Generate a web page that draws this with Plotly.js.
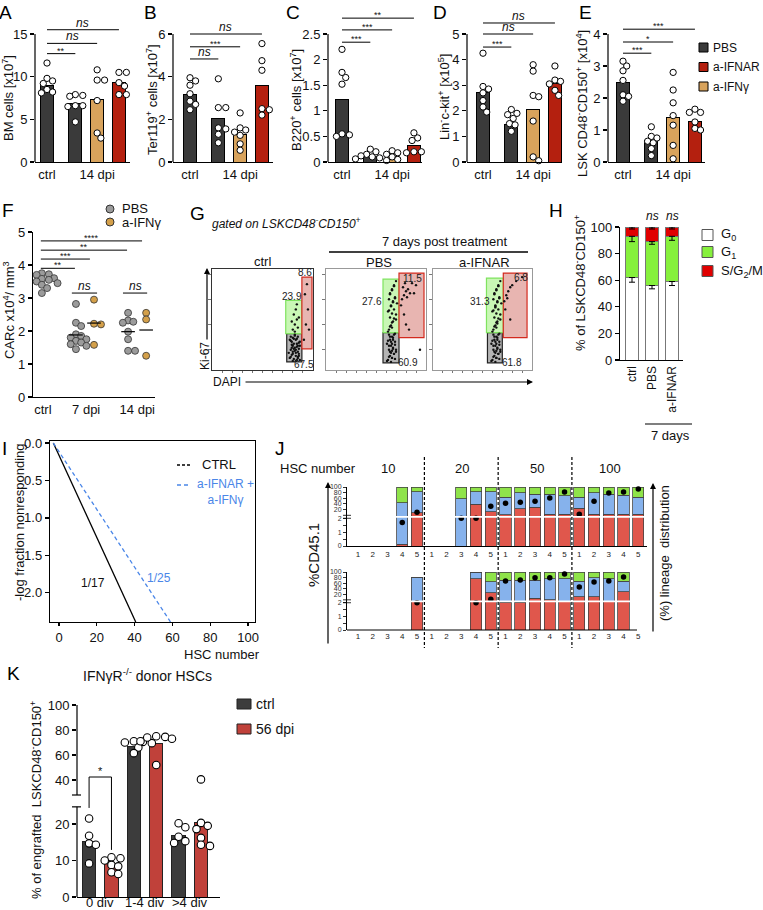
<!DOCTYPE html>
<html><head><meta charset="utf-8">
<script src="https://cdn.plot.ly/plotly-3.0.1.min.js"></script>
<style>html,body{margin:0;padding:0;background:#fff;}#chart{width:763px;height:910px;}</style>
</head><body><div id="chart"></div>
<script>
// ================= DATA =================
// Panels A–E : bars = ctrl, 14 dpi PBS, 14 dpi a-IFNγ, 14 dpi a-IFNAR
const AE_tickText = ['ctrl', '14 dpi'];
const AE_legend = ['PBS', 'a-IFNAR', 'a-IFNγ'];
const A_bar = [9.0, 6.8, 7.3, 9.3];
const A_pts = [[11.6,9.8,9.5,9.2,8.5,8.2,8.1],[7.9,7.8,7.7,6.6,6.6,6.5,4.7],[10.8,9.6,9.6,7.2,3.4,2.8],[10.5,10.5,9.3,8.9,7.9,7.9]];
const A_sig = [[1,12.7,'**'],[2,13.9,'ns'],[3,15.5,'ns']];
const B_bar = [3.15, 2.05, 1.3, 3.6];
const B_pts = [[3.95,3.8,3.6,3.2,2.85,2.7,2.45],[3.9,2.55,2.55,1.6,1.55,1.3,0.9],[2.3,1.6,1.5,1.4,1.25,0.85,0.55],[5.55,4.75,4.3,2.5,2.45,2.2]];
const B_sig = [[1,4.83,'ns'],[2,5.4,'***'],[3,6.0,'ns']];
const C_bar = [1.22, 0.1, 0.11, 0.33];
const C_pts = [[2.2,1.75,1.65,1.52,0.55,0.53,0.5],[0.25,0.2,0.15,0.12,0.1,0.08,0.06],[0.22,0.18,0.15,0.1,0.05,0.03],[0.57,0.47,0.42,0.2,0.2,0.18]];
const C_sig = [[1,2.34,'***'],[2,2.58,'***'],[3,2.81,'**']];
const D_bar = [2.7, 1.45, 2.05, 3.05];
const D_pts = [[4.25,2.95,2.85,2.7,2.4,2.15,1.95],[2.05,1.9,1.85,1.7,1.5,1.45,1.2],[3.8,3.55,2.6,2.55,1.6,0.2,0.05],[3.75,3.2,3.15,3.05,2.8,2.6]];
const D_sig = [[1,4.49,'***'],[2,5.0,'ns'],[3,5.43,'ns']];
const E_bar = [2.5, 0.68, 1.4, 1.28];
const E_pts = [[3.15,3.0,2.85,2.55,2.1,2.05,1.9],[1.1,0.8,0.75,0.65,0.6,0.42,0.2],[2.8,2.25,1.85,1.45,1.15,0.52,0.1],[1.65,1.55,1.55,1.25,1.05,1.0]];
const E_sig = [[1,3.4,'***'],[2,3.75,'*'],[3,4.15,'***']];

// Panel F : CARc x10^4 / mm^3
const F_tickText = ['ctrl', '7 dpi', '14 dpi'];
const F_ctrlPBS = [3.75,3.72,3.7,3.65,3.6,3.58,3.55,3.5,3.48,3.45,3.4,3.3,3.15];
const F_7PBS = [2.82,2.25,2.15,1.9,1.85,1.8,1.75,1.7,1.65,1.6,1.55,1.45];
const F_7IFNg = [2.95,2.22,2.2,1.58];
const F_14PBS = [2.55,2.32,2.28,2.25,1.98,1.75,1.4,1.4];
const F_14IFNg = [2.55,2.35,1.25];
const F_mean = [3.55, 1.88, 2.24, 1.98, 2.03];
const F_sig = [[0.97,3.9,'**'],[1.41,4.18,'***'],[2.5,4.45,'**'],[2.94,4.73,'****']];
const F_ns = [[0.88,1.62,3.15],[2.38,3.09,3.15]];

// Panel G : flow plots (DAPI, Ki-67) in 0–100 display units
const G_titles = ['ctrl', 'PBS', 'a-IFNAR'];
const G_ctrlDAPI = [77,79,81,83,85,78,80,82,84,86,79,81,83,85,87,76,80,84,86,82,78,87,80,83,85, 78,80,82,84,86,77,79,81,83,85,87,78,80,82,84,86,79,81,83,85, 80,82,84,81,83,85,86,79,84,82, 91,93,95,92,94,96];
const G_ctrlKi67 = [12,15,11,14,18,20,24,22,26,21,28,31,30,33,28,17,9,10,14,34,33,24,18,20,12, 13,16,19,23,27,30,25,21,17,13,10,29,32,35,31,16,22,26,9,24, 40,45,50,55,60,42,52,48,65,38, 30,45,60,75,85,40];
const G_pbsDAPI = [62,64,66,68,63,65,67,69,64,66,68,61,70,65,67,63,69,66, 61,63,65,67,69,62,64,66,68,70,63,65,67,69,64,66, 63,65,67,64,66,68,65,67,69,64,66,68,70,62,70,66,71,63, 62,64,66,68,70,63,65,67,69,64,66,68, 76,78,80,77,79,81,82,84,75,78,80,83,86,90,88,94];
const G_pbsKi67 = [10,14,12,16,20,24,22,28,30,33,35,26,18,8,30,35,11,19, 9,13,17,21,25,29,33,12,16,20,24,28,32,36,18,26, 40,44,48,52,56,60,64,68,72,76,80,84,88,58,50,42,66,70, 38,43,47,51,55,59,63,67,71,75,79,83, 70,74,78,82,86,72,80,76,64,55,45,40,86,84,76,20];
const G_ifnDAPI = [60,62,64,66,61,63,65,67,62,64,66,59,68,63,65,61,67,64, 59,61,63,65,67,60,62,64,66,68,61,63,65,67,62,64, 61,63,65,62,64,66,63,65,67,62,64,66,68,60,68,64,69,61,63,65, 60,62,64,66,68,61,63,65,67,62,64,66, 72,74,76,78,75,80,84,90,73,78];
const G_ifnKi67 = [10,14,12,16,20,24,22,28,30,33,35,26,18,8,30,35,11,19, 9,13,17,21,25,29,33,12,16,20,24,28,32,36,18,26, 40,44,48,52,56,60,64,68,72,76,80,84,88,58,50,42,66,70,62,46, 38,43,47,51,55,59,63,67,71,75,79,83, 68,74,78,82,71,84,88,92,60,50];
const G_ctrlGates = [[74,89,8,36],[73,89,36,69],[89,99,21,92]];
const G_pbsGates = [[57,73,7,37],[57,73,37,90],[73,98,32,96]];
const G_ifnGates = [[55,70,7,37],[54,71,37,91],[71,95,32,96]];
const G_ctrlPct = ['67.5','23.9','8.6'];
const G_pbsPct = ['60.9','27.6','11.5'];
const G_ifnPct = ['61.8','31.3','6.8'];

// Panel H : cell cycle (%)
const H_cat = ['ctrl', 'PBS', 'a-IFNAR'];
const H_G0 = [62, 56, 59];
const H_G1 = [31, 33, 34];
const H_S = [7, 11, 7];
const H_errG0 = [3.5, 2.5, 3];
const H_errG1 = [4, 2, 3];
const H_errS = [1.5, 1.5, 1.5];

// Panel I : limiting dilution
const I_ctrlX = [-3, 40.6], I_ctrlY = [0, 2.39];
const I_ifnX = [-3, 59], I_ifnY = [0, 2.39];

// Panel J : lineage distribution (%) and %CD45.1 per mouse
const J_groups = ['10', '20', '50', '100'];
const J_lab = ['1','2','3','4','5','1','2','3','4','5','1','2','3','4','5','1','2','3','4','5'];
const J_topRed   = [null,null,null,3,56,null,null,0,71,58,53,63,66,54,54,64,54,54,54,54];
const J_topBlue  = [null,null,null,70,36,null,null,80,21,34,30,27,22,34,31,19,36,34,32,29];
const J_topGreen = [null,null,null,27,8,null,null,20,8,8,17,10,12,12,15,17,10,12,14,17];
const J_topCD    = [null,null,null,1.7,11,null,null,2,2,32,43,46,50,61,82,4,50,79,82,93];
const J_botRed   = [null,null,null,null,50,null,null,null,88,64,48,48,55,52,50,57,57,50,66,null];
const J_botBlue  = [null,null,null,null,40,null,null,null,12,19,38,38,31,36,38,27,33,38,18,null];
const J_botGreen = [null,null,null,null,0,null,null,null,0,17,14,14,14,12,12,16,10,12,16,null];
const J_botCD    = [null,null,null,null,2,null,null,null,2,2.5,68,71,79,79,93,46,64,68,82,null];
const J_yTickVals = [0,0.5,1,1.5,2,20,40,60,80,100];
const J_yTickText = ['0',' ','1',' ','2','20','40','60','80','100'];

// Panel K : IFNγR-/- donor HSCs
const K_cat = ['0 div', '1-4 div', '>4 div'];
const K_bar = [15.1, 9.2, 66.5, 69.5, 16.8, 20.5];   // ctrl, 56 dpi per category
const K_pts = [[21.5,16.8,14.7,14.3,9.2],[10.9,10.6,10.0,8.8,8.4,6.8,6.3],[71,70.5,70,69.5,66,61.5],[75,74.5,74,73,71,52],[20.2,19.1,16.5,15.3,14.8],[40.5,20.3,19.5,18.6,16.2,14.3,14.0]];
const K_yTicks = [0,10,20,40,60,80,100];
const K_sig = [24.4, 42.4, 12.9];

// ================= BUILD =================
const W = 763, H = 910;
const FONT = '"Liberation Sans", Arial, Helvetica, sans-serif';
const traces = [], shapes = [], annotations = [];
const layout = {width:W, height:H, margin:{l:0,r:0,t:0,b:0}, paper_bgcolor:'#fff', plot_bgcolor:'rgba(0,0,0,0)',
  showlegend:false, barmode:'stack', hovermode:false, font:{family:FONT, size:13, color:'#111'}};
const xd = (a,b)=>[a/W, b/W];
const yd = (t,b)=>[1-b/H, 1-t/H];
function txt(x,y,text,o){annotations.push(Object.assign({xref:'paper',yref:'paper',x:x/W,y:1-y/H,text:text,showarrow:false,xanchor:'center',yanchor:'middle',font:{size:13,color:'#111',family:FONT}},o||{}));}
function pline(x0,y0,x1,y1,o){shapes.push(Object.assign({type:'line',xref:'paper',yref:'paper',x0:x0/W,y0:1-y0/H,x1:x1/W,y1:1-y1/H,line:{color:'#000',width:1.2}},o||{}));}
function prect(x0,y0,x1,y1,fill,lc){shapes.push({type:'rect',xref:'paper',yref:'paper',x0:x0/W,y0:1-y1/H,x1:x1/W,y1:1-y0/H,fillcolor:fill,line:{color:lc,width:1}});}
function pcirc(cx,cy,r,fill,lc){shapes.push({type:'circle',xref:'paper',yref:'paper',x0:(cx-r)/W,x1:(cx+r)/W,y0:1-(cy+r)/H,y1:1-(cy-r)/H,fillcolor:fill,line:{color:lc,width:1}});}
function parrow(hx,hy,tx,ty){annotations.push({xref:'paper',yref:'paper',x:hx/W,y:1-hy/H,ax:tx-hx,ay:ty-hy,text:'',showarrow:true,arrowhead:2,arrowsize:1,arrowwidth:1.2,arrowcolor:'#000'});}
function baseAxis(o){return Object.assign({showgrid:false,zeroline:false,fixedrange:true,linecolor:'#000',linewidth:1.2,tickcolor:'#000',tickwidth:1.2,tickfont:{size:13,color:'#111',family:FONT}},o);}
function swarm(vals,yPx,xPx,d){
  const placed=[], offs=[];
  vals.forEach(v=>{
    const yp=v*yPx; let best=0;
    for(let k=0;k<60;k++){
      const c=(k%2?1:-1)*Math.ceil(k/2)*d*0.3;
      if(placed.every(p=>Math.hypot(p[0]-c,p[1]-yp)>=d*0.92)){best=c;break;}
    }
    placed.push([best,yp]); offs.push(best/xPx);
  });
  return offs;
}
const sigText = s => s==='ns' ? '<i>ns</i>' : s;
const sigFont = s => s==='ns' ? {size:12,color:'#111'} : {size:9,color:'#111'};

// ---------- A–E ----------
const AE_x = [0, 1.3, 2.3, 3.3];
const AE_colors = ['#3a3a3a','#3a3a3a','#d8a35c','#b4200f'];
const AE_unit = 21.8;
const panelsAE = [
  {L:'A',lx:6,axis:35,ctrl:47,end:130,max:15,ticks:[0,5,10,15],title:'BM cells [x10<sup>7</sup>]',tx:8,ty:98,bar:A_bar,pts:A_pts,sig:A_sig},
  {L:'B',lx:150,axis:173,ctrl:190,end:273,max:6,ticks:[0,2,4,6],title:'Ter119<sup>+</sup> cells [x10<sup>7</sup>]',tx:152,ty:100,bar:B_bar,pts:B_pts,sig:B_sig},
  {L:'C',lx:293,axis:328,ctrl:342,end:422,max:2.5,ticks:[0,0.5,1,1.5,2,2.5],title:'B220<sup>+</sup> cells [x10<sup>7</sup>]',tx:296,ty:100,bar:C_bar,pts:C_pts,sig:C_sig},
  {L:'D',lx:440,axis:467,ctrl:483,end:562,max:5,ticks:[0,1,2,3,4,5],title:'Lin<sup>-</sup>c-kit<sup>+</sup> [x10<sup>5</sup>]',tx:444,ty:97,bar:D_bar,pts:D_pts,sig:D_sig},
  {L:'E',lx:585,axis:608,ctrl:623,end:705,max:4,ticks:[0,1,2,3,4],title:'LSK CD48<sup>-</sup>CD150<sup>+</sup> [x10<sup>4</sup>]',tx:582,ty:104,bar:E_bar,pts:E_pts,sig:E_sig}
];
panelsAE.forEach((p,i)=>{
  const s = i===0 ? '' : String(i+1);
  const xa='x'+s, ya='y'+s;
  const yPx = 128/p.max, rmax = p.max*1.2;
  layout['xaxis'+s] = baseAxis({domain:xd(p.axis,p.end), range:[(p.axis-p.ctrl)/AE_unit,(p.end-p.ctrl)/AE_unit], anchor:ya,
    showline:true, ticks:'', tickvals:[AE_x[0],AE_x[2]], ticktext:AE_tickText});
  layout['yaxis'+s] = baseAxis({domain:yd(162-rmax*yPx,162), range:[0,rmax], anchor:xa, showline:false,
    ticks:'outside', ticklen:4, tickvals:p.ticks, ticktext:p.ticks.map(String)});
  shapes.push({type:'line',xref:'paper',yref:ya,x0:p.axis/W,x1:p.axis/W,y0:0,y1:p.max,line:{color:'#000',width:1.2}});
  traces.push({type:'bar',x:AE_x,y:p.bar,xaxis:xa,yaxis:ya,width:0.6,marker:{color:AE_colors,line:{color:'#000',width:1}}});
  const px=[], py=[];
  p.pts.forEach((vals,g)=>{const o=swarm(vals,yPx,AE_unit,6.2); vals.forEach((v,k)=>{px.push(AE_x[g]+o[k]); py.push(v);});});
  traces.push({type:'scatter',mode:'markers',x:px,y:py,xaxis:xa,yaxis:ya,cliponaxis:false,marker:{size:6.3,color:'#fff',line:{color:'#000',width:1}}});
  p.sig.forEach(([t,v,lab])=>{
    shapes.push({type:'line',xref:xa,yref:ya,x0:0,x1:AE_x[t],y0:v,y1:v,line:{color:'#000',width:1}});
    annotations.push({xref:xa,yref:ya,x:AE_x[t]/2,y:v,text:sigText(lab),showarrow:false,xanchor:'center',yanchor:'bottom',yshift:lab==='ns'?-2:-4,font:sigFont(lab)});
  });
  txt(p.tx,p.ty,p.title,{textangle:-90});
  txt(p.lx,13,p.L,{font:{size:19,color:'#000'}});
});
// A–E legend
[[AE_colors[0],47.5],[AE_colors[3],67],[AE_colors[2],86.5]].forEach(([c,y],k)=>{
  prect(699,y-4.5,708,y+4.5,c,'#000');
  txt(711,y,AE_legend[k],{xanchor:'left',font:{size:12,color:'#111',family:FONT}});
});

// ---------- F ----------
const F_x = [0, 1, 1.53, 2.53, 3.06];
const F_col = ['#9b9b9b','#9b9b9b','#d4a04a','#9b9b9b','#d4a04a'];
const F_sets = [F_ctrlPBS, F_7PBS, F_7IFNg, F_14PBS, F_14IFNg];
layout.xaxis6 = baseAxis({domain:xd(33,155), range:[-0.26,3.32], anchor:'y6', showline:true, ticks:'', tickvals:[0.03,1.3,2.8], ticktext:F_tickText});
layout.yaxis6 = baseAxis({domain:yd(232,397), range:[0,5], anchor:'x6', showline:true, ticks:'outside', ticklen:4, tickvals:[0,1,2,3,4,5], ticktext:['0','1','2','3','4','5']});
F_sets.forEach((vals,g)=>{
  const o = swarm(vals,33,34,5.8);
  traces.push({type:'scatter',mode:'markers',x:vals.map((v,k)=>F_x[g]+o[k]),y:vals,xaxis:'x6',yaxis:'y6',cliponaxis:false,
    marker:{size:7,color:F_col[g],line:{color:'#333',width:0.8}}});
});
{
  const mx=[], my=[];
  F_mean.forEach((m,g)=>{ if(g>0){ mx.push(F_x[g]-0.2,F_x[g]+0.2,null); my.push(m,m,null);} });
  traces.push({type:'scatter',mode:'lines',x:mx,y:my,xaxis:'x6',yaxis:'y6',line:{color:'#000',width:1.2}});
}
F_sig.forEach(([x1,v,lab])=>{
  shapes.push({type:'line',xref:'x6',yref:'y6',x0:-0.03,x1:x1,y0:v,y1:v,line:{color:'#000',width:1}});
  annotations.push({xref:'x6',yref:'y6',x:x1/2,y:v,text:lab,showarrow:false,yanchor:'bottom',yshift:-4,font:{size:9,color:'#111'}});
});
F_ns.forEach(([a,b,v])=>{
  shapes.push({type:'line',xref:'x6',yref:'y6',x0:a,x1:b,y0:v,y1:v,line:{color:'#000',width:1}});
  annotations.push({xref:'x6',yref:'y6',x:(a+b)/2,y:v,text:'<i>ns</i>',showarrow:false,yanchor:'bottom',yshift:-2,font:{size:12,color:'#111'}});
});
txt(9,310,'CARc x10<sup>4</sup>/ mm<sup>3</sup>',{textangle:-90});
pcirc(110,209,4,'#9b9b9b','#333'); txt(120,209,'PBS',{xanchor:'left'});
pcirc(110,222,4,'#d4a04a','#333'); txt(120,222,'a-IFNγ',{xanchor:'left'});
txt(8,210,'F',{font:{size:19,color:'#000'}});

// ---------- G ----------
const G_boxes = [[212,313,'#333'],[326,426,'#999'],[433,532,'#999']];
const G_dapi = [G_ctrlDAPI, G_pbsDAPI, G_ifnDAPI];
const G_ki = [G_ctrlKi67, G_pbsKi67, G_ifnKi67];
const G_gates = [G_ctrlGates, G_pbsGates, G_ifnGates];
const G_pct = [G_ctrlPct, G_pbsPct, G_ifnPct];
const G_pctPos = [[[91,5],[79,73],[92,97]],[[82,7],[46,68],[86,91]],[[80,7],[47,68],[89,92]]];
const G_fill = [['#b4b4b4','#222'],['#c9f7b5','#7fe35f'],['#e8b5b1','#d42a1e']];
G_boxes.forEach(([a,b,lc],i)=>{
  const k=7+i, xa='x'+k, ya='y'+k;
  layout['xaxis'+k] = baseAxis({domain:xd(a,b), range:[0,100], anchor:ya, showline:true, mirror:true, linecolor:lc, linewidth:1,
    ticks:'outside', ticklen:2, tickwidth:0.8, tickcolor:'#555', tickvals:[10,20,30,40,50,60,70,80,90], showticklabels:false});
  layout['yaxis'+k] = baseAxis({domain:yd(269,370), range:[0,100], anchor:xa, showline:true, mirror:true, linecolor:lc, linewidth:1,
    ticks:'outside', ticklen:3, tickwidth:0.8, tickcolor:'#555', tickvals:[20,45,70,95], showticklabels:false});
  G_gates[i].forEach((g,j)=>{
    shapes.push({type:'rect',xref:xa,yref:ya,x0:g[0],x1:g[1],y0:g[2],y1:g[3],fillcolor:G_fill[j][0],line:{color:G_fill[j][1],width:1.2},layer:'below'});
  });
  traces.push({type:'scatter',mode:'markers',x:G_dapi[i],y:G_ki[i],xaxis:xa,yaxis:ya,marker:{size:2.4,color:'#111'}});
  G_pct[i].forEach((t,j)=>{
    annotations.push({xref:xa,yref:ya,x:G_pctPos[i][j][0],y:G_pctPos[i][j][1],text:t,showarrow:false,font:{size:10,color:'#222'}});
  });
});
txt(197,213,'G',{font:{size:19,color:'#000'}});
txt(210,223,'<i>gated on LSKCD48<sup>-</sup>CD150<sup>+</sup></i>',{xanchor:'left',font:{size:12,color:'#111'}});
txt(262,261,G_titles[0]);
txt(445,242,'7 days post treatment');
pline(329,252,528,252,{line:{color:'#000',width:1.5}});
txt(379,262,G_titles[1]);
txt(484,262,G_titles[2]);
txt(205,356,'Ki-67',{textangle:-90,font:{size:12,color:'#111'}});
parrow(207,268,207,341);
txt(227,382,'DAPI',{font:{size:12,color:'#111'}});
parrow(533,382,244,382);

// ---------- H ----------
const H_x = [0,1,2];
layout.xaxis10 = baseAxis({domain:xd(620,683), range:[-0.6,2.55], anchor:'y10', showline:true, ticks:'', tickvals:H_x, ticktext:H_cat, tickangle:-90, tickfont:{size:12,color:'#111',family:FONT}});
layout.yaxis10 = baseAxis({domain:yd(227,360), range:[0,100], anchor:'x10', showline:true, ticks:'outside', ticklen:4, tickvals:[0,20,40,60,80,100], ticktext:['0','20','40','60','80','100']});
[[H_G0,'#ffffff'],[H_G1,'#86f03c'],[H_S,'#e00000']].forEach(([v,c])=>{
  traces.push({type:'bar',x:H_x,y:v,xaxis:'x10',yaxis:'y10',width:0.65,marker:{color:c,line:{color:'#777',width:1}}});
});
{
  const ex=[], ey=[], em=[];
  H_x.forEach((x,i)=>{
    ex.push(x,x,x);
    ey.push(H_G0[i], H_G0[i]+H_G1[i], H_G0[i]+H_G1[i]+H_S[i]);
    em.push(H_errG0[i], H_errG1[i], H_errS[i]);
  });
  traces.push({type:'scatter',mode:'markers',x:ex,y:ey,xaxis:'x10',yaxis:'y10',cliponaxis:false,marker:{size:1,color:'rgba(0,0,0,0)'},
    error_y:{type:'data',symmetric:false,array:em.map(()=>0),arrayminus:em,color:'#000',thickness:1,width:3}});
}
txt(652,216,'<i>ns</i>',{font:{size:12,color:'#111'}});
txt(672,216,'<i>ns</i>',{font:{size:12,color:'#111'}});
txt(580,283,'% of LSKCD48<sup>-</sup>CD150<sup>+</sup>',{textangle:-90});
pline(645,424,692,424,{line:{color:'#000',width:1.2}});
txt(670,435,'7 days');
[['#ffffff',235,'G<sub>0</sub>'],['#86f03c',252,'G<sub>1</sub>'],['#e00000',271,'S/G<sub>2</sub>/M']].forEach(([c,y,t])=>{
  prect(702,y-5.5,713,y+5.5,c,'#555');
  txt(719,y,t,{xanchor:'left'});
});
txt(556,210,'H',{font:{size:19,color:'#000'}});

// ---------- I ----------
layout.xaxis11 = baseAxis({domain:xd(50,255), range:[-4.76,103.7], anchor:'y11', showline:true, mirror:true, ticks:'outside', ticklen:3,
  tickvals:[0,20,40,60,80,100], ticktext:['0','20','40','60','80','100']});
layout.yaxis11 = baseAxis({domain:yd(441,622), range:[2.39,-0.027], anchor:'x11', showline:true, mirror:true, ticks:'outside', ticklen:4,
  tickvals:[0,0.5,1,1.5,2], ticktext:['0.0','0.5','1.0','1.5','2.0']});
traces.push({type:'scatter',mode:'lines',x:I_ctrlX,y:I_ctrlY,xaxis:'x11',yaxis:'y11',line:{color:'#000',width:1.3}});
traces.push({type:'scatter',mode:'lines',x:I_ifnX,y:I_ifnY,xaxis:'x11',yaxis:'y11',line:{color:'#4a86e8',width:1.3,dash:'4px,3px'}});
pline(177,465,191,465,{line:{color:'#000',width:1.3,dash:'3px,2px'}});
txt(200,465,'CTRL',{xanchor:'left'});
pline(177,485,191,485,{line:{color:'#4a86e8',width:1.3,dash:'4px,3px'}});
txt(225,492,'a-IFNAR +<br>a-IFNγ',{font:{size:12,color:'#4a86e8'}});
txt(93,583,'1/17',{font:{size:12,color:'#111'}});
txt(159,578,'1/25',{font:{size:12,color:'#4a86e8'}});
txt(222,654,'HSC number');
txt(19,522,'-log fraction nonresponding',{textangle:-90});
txt(4,448,'I',{font:{size:19,color:'#000'}});

// ---------- J ----------
const jT = v => v==null ? null : (v<=2 ? v*23.5 : 52+v*0.48);
const jx = J_lab.map((_,i)=>i);
const J_yPos = J_yTickVals.map(jT);
[['12',487,546,J_topRed,J_topBlue,J_topGreen,J_topCD,true],['13',572,630,J_botRed,J_botBlue,J_botGreen,J_botCD,false]].forEach(([k,t,b,r,bl,g,cd,xl])=>{
  layout['xaxis'+k] = baseAxis({domain:xd(347,647), range:[-0.746,19.59], anchor:'y'+k, showline:xl, linewidth:1, ticks:'', tickvals:jx, ticktext:J_lab, tickfont:{size:8,color:'#222',family:FONT}});
  layout['yaxis'+k] = baseAxis({domain:yd(t,b), range:[0,100], anchor:'x'+k, showline:true, linewidth:1, ticks:'outside', ticklen:3, tickwidth:0.8,
    tickvals:J_yPos, ticktext:J_yTickText, tickfont:{size:7,color:'#333',family:FONT}});
  [[r,'#e0574c'],[bl,'#86b2ec'],[g,'#8fe34a']].forEach(([v,c])=>{
    traces.push({type:'bar',x:jx,y:v,xaxis:'x'+k,yaxis:'y'+k,width:0.76,marker:{color:c,line:{color:'#444',width:0.8}}});
  });
  traces.push({type:'scatter',mode:'markers',x:jx,y:cd.map(jT),xaxis:'x'+k,yaxis:'y'+k,cliponaxis:false,marker:{size:5.5,color:'#000'}});
  shapes.push({type:'line',xref:'paper',yref:'y'+k,x0:347/W,x1:647/W,y0:49.5,y1:49.5,line:{color:'#fff',width:1.8}});
  shapes.push({type:'line',xref:'paper',yref:'y'+k,x0:343/W,x1:351/W,y0:47,y1:47,line:{color:'#000',width:0.8}});
  shapes.push({type:'line',xref:'paper',yref:'y'+k,x0:343/W,x1:351/W,y0:52,y1:52,line:{color:'#000',width:0.8}});
});
pline(347,630,637,630,{line:{color:'#000',width:1}});
[4.5,9.5,14.5].forEach(x=>shapes.push({type:'line',xref:'x12',yref:'paper',x0:x,x1:x,y0:1-457/H,y1:1-648/H,line:{color:'#000',width:1.2,dash:'3px,2px'}}));
txt(280,448,'J',{font:{size:19,color:'#000'}});
txt(278,469,'HSC number',{xanchor:'left'});
[[388,J_groups[0]],[462,J_groups[1]],[537,J_groups[2]],[610,J_groups[3]]].forEach(([x,t])=>txt(x,469,t));
txt(313,555,'%CD45.1',{textangle:-90,font:{size:15,color:'#111'}});
parrow(328,482,328,645);
txt(664,553,'(%) lineage  distribution',{textangle:-90,font:{size:13,color:'#111'}});
parrow(653,483,653,633);

// ---------- K ----------
const kT = v => v<=25 ? v*3.65 : (v<28 ? 91.25+(v-25)*3.58 : 102+(v-28)*1.25);
const K_x = [0,1,2,3,4,5];
const K_col = ['#3c3c3c','#c0413a','#3c3c3c','#c0413a','#3c3c3c','#c0413a'];
layout.xaxis14 = baseAxis({domain:xd(77,220), range:[-0.54,5.85], anchor:'y14', showline:true, ticks:'', showticklabels:false});
layout.yaxis14 = baseAxis({domain:yd(705,897), range:[0,192], anchor:'x14', showline:false, ticks:'outside', ticklen:4,
  tickvals:K_yTicks.map(kT), ticktext:K_yTicks.map(String)});
[0.5,2.5,4.5].forEach((x,i)=>annotations.push({xref:'x14',yref:'paper',x:x,y:1-902/H,text:K_cat[i],showarrow:false,xanchor:'center',yanchor:'middle',font:{size:13,color:'#111'}}));
traces.push({type:'bar',x:K_x,y:K_bar.map(kT),xaxis:'x14',yaxis:'y14',width:0.6,marker:{color:K_col,line:{color:'#222',width:1}}});
{
  const px=[], py=[];
  K_pts.forEach((vals,g)=>{const tv=vals.map(kT); const o=swarm(tv,1,22.4,7.5); tv.forEach((v,k)=>{px.push(K_x[g]+o[k]); py.push(v);});});
  traces.push({type:'scatter',mode:'markers',x:px,y:py,xaxis:'x14',yaxis:'y14',cliponaxis:false,marker:{size:7.5,color:'#fff',line:{color:'#000',width:1.1}}});
}
traces.push({type:'scatter',mode:'lines',x:[0,0,1,1],y:[kT(K_sig[0]),kT(K_sig[1]),kT(K_sig[1]),kT(K_sig[2])],xaxis:'x14',yaxis:'y14',line:{color:'#000',width:1}});
annotations.push({xref:'x14',yref:'y14',x:0.5,y:kT(K_sig[1]),text:'*',showarrow:false,yanchor:'bottom',yshift:-2,font:{size:11,color:'#111'}});
shapes.push({type:'line',xref:'paper',yref:'y14',x0:77/W,x1:77/W,y0:kT(0),y1:kT(24.7),line:{color:'#000',width:1.2}});
shapes.push({type:'line',xref:'paper',yref:'y14',x0:77/W,x1:77/W,y0:kT(28),y1:kT(100),line:{color:'#000',width:1.2}});
shapes.push({type:'line',xref:'paper',yref:'y14',x0:72/W,x1:81/W,y0:kT(24.7),y1:kT(24.7),line:{color:'#000',width:1.2}});
shapes.push({type:'line',xref:'paper',yref:'y14',x0:72/W,x1:81/W,y0:kT(28),y1:kT(28),line:{color:'#000',width:1.2}});
txt(147,675,'IFNγR<sup>-/-</sup> donor HSCs',{font:{size:14,color:'#111'}});
prect(237,699,251,709,K_col[0],'#222'); txt(254,704,'ctrl',{xanchor:'left',font:{size:14,color:'#111'}});
prect(237,724,251,734,K_col[1],'#222'); txt(254,729,'56 dpi',{xanchor:'left',font:{size:14,color:'#111'}});
txt(36,800,'% of engrafted  LSKCD48<sup>-</sup>CD150<sup>+</sup>',{textangle:-90});
txt(13,673,'K',{font:{size:19,color:'#000'}});

layout.shapes = shapes;
layout.annotations = annotations;
Plotly.newPlot('chart', traces, layout, {staticPlot:true, displayModeBar:false});
</script>
</body></html>
